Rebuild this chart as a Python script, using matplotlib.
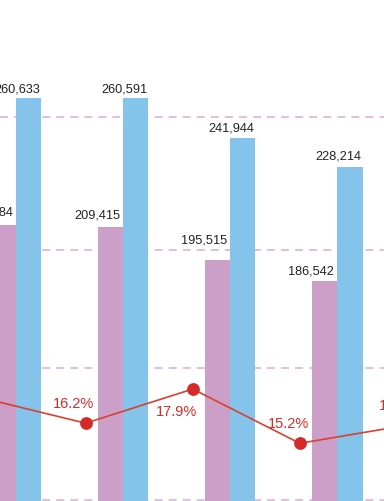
import numpy as np
import matplotlib
matplotlib.use('Agg')
import matplotlib.pyplot as plt

plt.rcParams['font.family'] = ['Liberation Sans', 'DejaVu Sans']

# ---- data (visible part of the chart) ----
group_index = [0, 1, 2, 3]
pink_values = [210384, 209415, 195515, 186542]
blue_values = [260633, 260591, 241944, 228214]
pct_index = [0, 1, 2, 3, 4]
pct_values = [17.5, 16.2, 17.9, 15.2, 16.1]
pct_label_side = ['above', 'above', 'below', 'above', 'above']

# ---- style ----
PINK = '#cc9fc9'
BLUE = '#84c3ea'
RED_LINE = '#d8412f'
RED = '#d42a2a'
GRID = '#d6aed6'
BAR_W = 0.236
LINE_SHIFT = -0.35
GRID_LEVELS = [251600, 189300, 133700, 71800]
PINK_LABEL_DY = [13, 13, 20, 11]
BLUE_LABEL_DY = [10, 10, 11, 12]
PCT_LABEL_DX = [-13, -12, -16, -11, -7]

fig = plt.figure(figsize=(3.84, 5.02), dpi=100)
ax_b = fig.add_axes([0, 0, 1, 1])
ax_p = ax_b.twinx()
ax_l = ax_b.twinx()

for a in (ax_b, ax_p, ax_l):
    for s in a.spines.values():
        s.set_visible(False)
    a.tick_params(left=False, right=False, bottom=False, top=False,
                  labelleft=False, labelright=False, labelbottom=False)
    a.set_xlim(-0.1494, 3.436)

ax_b.set_ylim(71346, 307286)
ax_p.set_ylim(93362, 306009)
ax_l.set_ylim(12.33, 37.30)

# grid
ax_b.set_yticks(GRID_LEVELS)
ax_b.grid(axis='y', color=GRID, linewidth=1.1, linestyle=(0, (5.2, 4.0)), zorder=0)
ax_b.grid(axis='x', visible=False)
ax_b.set_axisbelow(True)

x = np.array(group_index, dtype=float)
ax_b.bar(x + BAR_W / 2, blue_values, width=BAR_W, color=BLUE, zorder=2)
ax_p.bar(x - BAR_W / 2, pink_values, width=BAR_W, color=PINK, zorder=2)

for xi, v, dy in zip(x, blue_values, BLUE_LABEL_DY):
    ax_b.annotate(f'{v:,}', xy=(xi + BAR_W, v), xytext=(-1, dy),
                  textcoords='offset pixels', ha='right', va='center',
                  fontsize=9.2, color='#222222', annotation_clip=False)
for xi, v, dy in zip(x, pink_values, PINK_LABEL_DY):
    ax_p.annotate(f'{v:,}', xy=(xi, v), xytext=(-3, dy),
                  textcoords='offset pixels', ha='right', va='center',
                  fontsize=9.2, color='#222222', annotation_clip=False)

xl = np.array(pct_index, dtype=float) + LINE_SHIFT
ax_l.plot(xl, pct_values, color=RED_LINE, linewidth=1.2, zorder=3, clip_on=False)
ax_l.plot(xl, pct_values, linestyle='none', marker='o', markersize=9.2,
          color=RED, markeredgewidth=0, zorder=4, clip_on=False)
for xi, v, side, dx in zip(xl, pct_values, pct_label_side, PCT_LABEL_DX):
    dy = 20 if side == 'above' else -22
    ax_l.annotate(f'{v:.1f}%', xy=(xi, v), xytext=(dx, dy),
                  textcoords='offset pixels', ha='center', va='center',
                  fontsize=10.5, color=RED, annotation_clip=False)

fig.savefig('out.png', dpi=100)
